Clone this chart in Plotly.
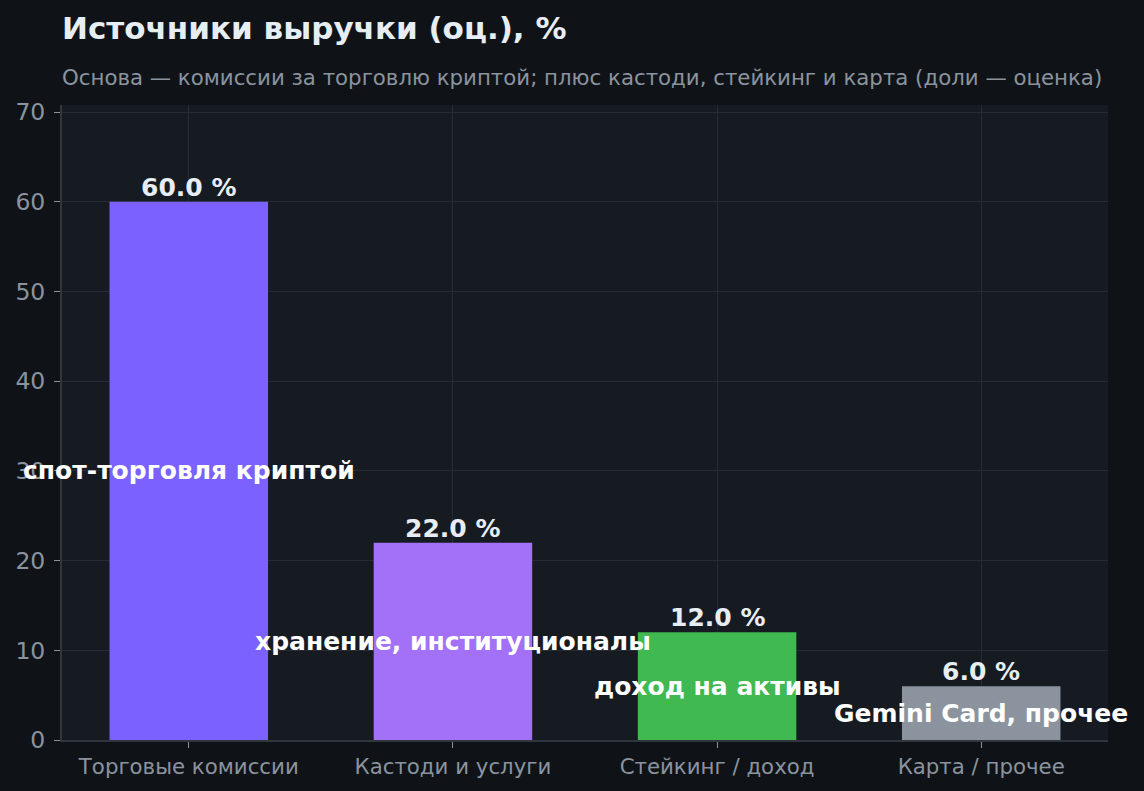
import plotly.graph_objects as go

# доли выручки (оценка)
categories = ['Торговые комиссии', 'Кастоди и услуги', 'Стейкинг / доход', 'Карта / прочее']
shares = [60.0, 22.0, 12.0, 6.0]
inner_labels = ['спот-торговля криптой', 'хранение, институционалы', 'доход на активы', 'Gemini Card, прочее']
colors = ['#7b61ff', '#a371f7', '#3fb950', '#8b949e']
y_ticks = [0, 10, 20, 30, 40, 50, 60, 70]

FONT = 'DejaVu Sans'
x = list(range(len(categories)))

fig = go.Figure()
fig.add_trace(go.Bar(x=x, y=shares, width=0.6, marker=dict(color=colors, line=dict(width=0)),
                     hoverinfo='skip'))

for i, v in enumerate(shares):
    fig.add_annotation(x=i, y=v, text=f'<b>{v:.1f} %</b>', showarrow=False,
                       yanchor='bottom', yshift=-2,
                       font=dict(family=FONT, size=25, color='#e6edf3'))
    fig.add_annotation(x=i, y=v / 2, text=f'<b>{inner_labels[i]}</b>', showarrow=False,
                       font=dict(family=FONT, size=25, color='#ffffff'))

fig.add_annotation(xref='paper', yref='paper', x=0, y=1, xanchor='left', yanchor='bottom',
                   xshift=-2, yshift=13,
                   text='Основа — комиссии за торговлю криптой; плюс кастоди, стейкинг и карта (доли — оценка)',
                   showarrow=False, font=dict(family=FONT, size=21.3, color='#8b949e'))

fig.update_layout(
    width=1144, height=791,
    paper_bgcolor='#0f1318', plot_bgcolor='#161b22',
    margin=dict(l=62, r=36, t=105, b=51),
    title=dict(text='<b>Источники выручки (оц.), %</b>', x=62 / 1144, xanchor='left',
               y=1 - 28 / 791, yanchor='middle',
               font=dict(family=FONT, size=31, color='#e6edf3')),
    showlegend=False,
    font=dict(family=FONT, color='#8b949e'),
)
fig.update_xaxes(range=[-0.48, 3.48], tickvals=x, ticktext=categories,
                 ticks='outside', ticklen=6, tickcolor='#8b949e',
                 showline=True, linecolor='#30363d', linewidth=2,
                 showgrid=True, gridcolor='#262b34', zeroline=False,
                 tickfont=dict(family=FONT, size=21.3, color='#8b949e'))
fig.update_yaxes(range=[0, 70.8], tickvals=y_ticks,
                 ticks='outside', ticklen=6, tickcolor='#8b949e',
                 showline=True, linecolor='#30363d', linewidth=2,
                 showgrid=True, gridcolor='#262b34', zeroline=False,
                 ticklabelstandoff=4,
                 tickfont=dict(family=FONT, size=23.5, color='#8b949e'))

fig.write_html('out.html', config={'displayModeBar': False},
               post_script="document.body.style.margin='0';")
